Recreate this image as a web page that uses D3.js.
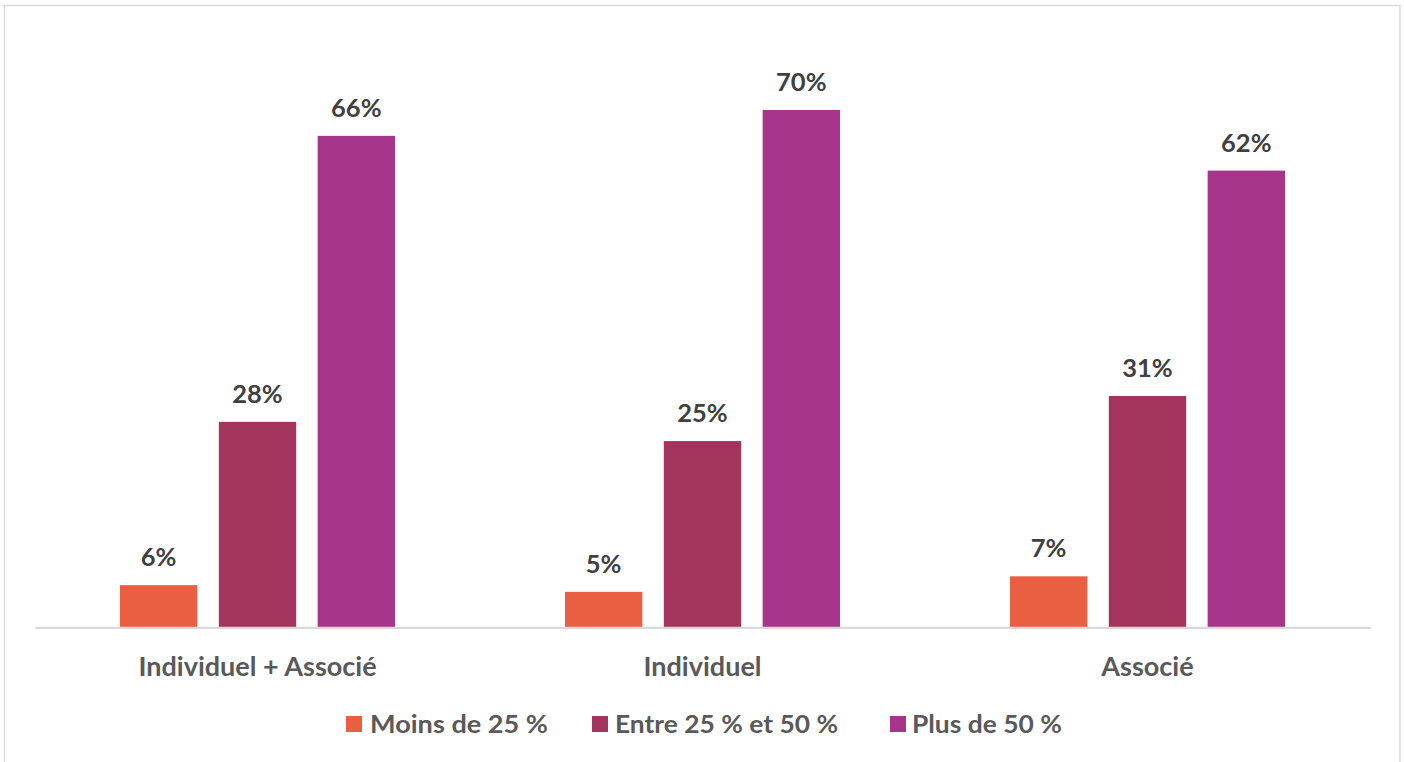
<!DOCTYPE html>
<html><head><meta charset="utf-8">
<script src="https://cdn.jsdelivr.net/npm/d3@7"></script>
<style>html,body{margin:0;padding:0;background:#fff;}svg{display:block;}</style>
</head><body>
<svg id="chart" width="1404" height="762"></svg>
<script>
const categories = ["Individuel + Associé", "Individuel", "Associé"];
const seriesNames = ["Moins de 25 %", "Entre 25 % et 50 %", "Plus de 50 %"];
const seriesColors = ["#EA5E41", "#A3345E", "#A6358B"];
const moins25 = [5.7, 4.8, 6.9];
const entre25_50 = [27.8, 25.2, 31.3];
const plus50 = [66.5, 70.0, 61.8];
const moins25Labels = ["6%", "5%", "7%"];
const entre25_50Labels = ["28%", "25%", "31%"];
const plus50Labels = ["66%", "70%", "62%"];

const seriesValues = [moins25, entre25_50, plus50];
const seriesLabels = [moins25Labels, entre25_50Labels, plus50Labels];

const svg = d3.select("#chart");
const plot = {left: 35, right: 1370, bottom: 627.3};
const FONT = "Lato, 'Open Sans', sans-serif";

// outer border
svg.append("rect").attr("x", 4.5).attr("y", 5.5).attr("width", 1395.5).attr("height", 770)
  .attr("fill", "#fff").attr("stroke", "#d9d9d9").attr("stroke-width", 1.5);

const x0 = d3.scaleBand().domain(categories).range([plot.left, plot.right]).paddingInner(0).paddingOuter(0);
const x1 = d3.scaleBand().domain(seriesNames).range([0, x0.bandwidth()]).paddingInner(0.217).paddingOuter(0.86);
const y = d3.scaleLinear().domain([0, 80]).range([plot.bottom, plot.bottom - 80 * 7.39]);

const rows = [];
categories.forEach((c, ci) => {
  seriesNames.forEach((s, si) => {
    rows.push({cat: c, ser: s, si, value: seriesValues[si][ci], label: seriesLabels[si][ci]});
  });
});

svg.append("g").selectAll("rect").data(rows).join("rect")
  .attr("x", d => x0(d.cat) + x1(d.ser))
  .attr("y", d => y(d.value))
  .attr("width", x1.bandwidth())
  .attr("height", d => y(0) - y(d.value))
  .attr("fill", d => seriesColors[d.si]);

svg.append("g").selectAll("text").data(rows).join("text")
  .attr("x", d => x0(d.cat) + x1(d.ser) + x1.bandwidth() / 2)
  .attr("y", d => y(d.value) - 19)
  .attr("text-anchor", "middle")
  .attr("font-family", FONT)
  .attr("font-weight", 700)
  .attr("font-size", 25.5)
  .attr("fill", "#404040")
  .text(d => d.label);

// baseline axis
const xAxis = d3.axisBottom(x0).tickSize(0).tickPadding(0);
const axisG = svg.append("g").attr("transform", `translate(0,${plot.bottom})`).call(xAxis);
axisG.select(".domain").attr("stroke", "#d9d9d9").attr("stroke-width", 2.2);
axisG.selectAll("text")
  .attr("dy", null).attr("y", 49)
  .attr("font-family", FONT)
  .attr("font-weight", 700)
  .attr("font-size", 27)
  .attr("fill", "#595959");

// legend
const legendItems = [
  {name: seriesNames[0], color: seriesColors[0], sx: 346, tx: 370, tw: 178},
  {name: seriesNames[1], color: seriesColors[1], sx: 592, tx: 615, tw: 223},
  {name: seriesNames[2], color: seriesColors[2], sx: 890, tx: 912, tw: 150}
];
const lg = svg.append("g");
lg.selectAll("rect").data(legendItems).join("rect")
  .attr("x", d => d.sx).attr("y", 716).attr("width", 16).attr("height", 16)
  .attr("fill", d => d.color);
lg.selectAll("text").data(legendItems).join("text")
  .attr("x", d => d.tx).attr("y", 733)
  .attr("textLength", d => d.tw).attr("lengthAdjust", "spacingAndGlyphs")
  .attr("font-family", FONT)
  .attr("font-weight", 700)
  .attr("font-size", 24)
  .attr("fill", "#595959")
  .text(d => d.name);
</script>
</body></html>
